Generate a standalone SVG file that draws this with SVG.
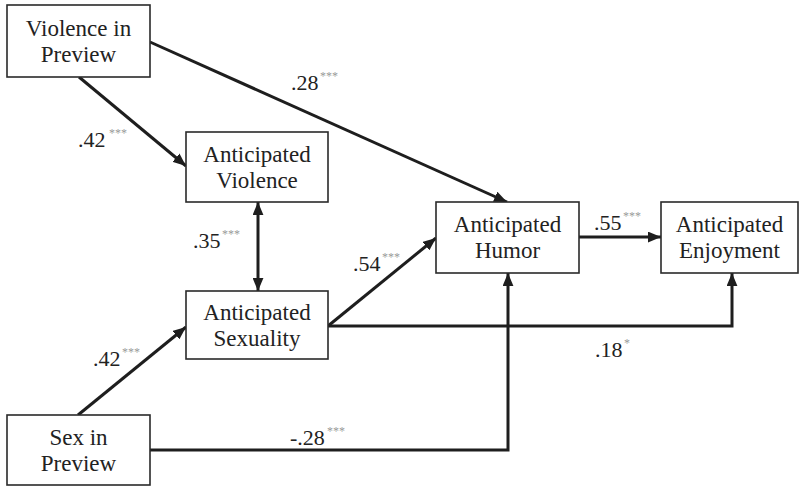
<svg xmlns="http://www.w3.org/2000/svg" width="801" height="487" viewBox="0 0 801 487">
<style>
  text { font-family: 'Liberation Serif', 'Times New Roman', 'DejaVu Serif', serif; }
  .box { fill: #ffffff; stroke: #2a2a2a; stroke-width: 1.6; }
  .lbl { font-size: 23px; fill: #222; text-anchor: middle; }
  .coef { font-size: 22px; fill: #222; }
  .star { font-size: 12px; fill: #999; }
  .edge { fill: none; stroke: #1e1e1e; stroke-width: 3; }
</style>
<defs>
  <marker id="ah" viewBox="0 0 12 10" refX="12" refY="5" markerUnits="userSpaceOnUse" markerWidth="13" markerHeight="11" orient="auto-start-reverse">
    <path d="M0,0 L12,5 L0,10 z" fill="#1e1e1e"/>
  </marker>
</defs>
<rect width="801" height="487" fill="#ffffff"/>
<g id="connectors">
  <line class="edge" x1="79" y1="77" x2="186" y2="166" marker-end="url(#ah)"/>
  <line class="edge" x1="150" y1="42" x2="507" y2="202" marker-end="url(#ah)"/>
  <line class="edge" x1="258" y1="202" x2="258" y2="291" marker-start="url(#ah)" marker-end="url(#ah)"/>
  <line class="edge" x1="328" y1="326" x2="436" y2="238" marker-end="url(#ah)"/>
  <line class="edge" x1="78" y1="415" x2="186" y2="327" marker-end="url(#ah)"/>
  <line class="edge" x1="579" y1="237" x2="661" y2="237" marker-end="url(#ah)"/>
  <path class="edge" d="M328,326 H732 V273" marker-end="url(#ah)"/>
  <path class="edge" d="M150,450 H508 V273" marker-end="url(#ah)"/>
</g>
<g id="coefficients">
  <text class="coef" x="78" y="147">.42</text><text class="star" x="109" y="137">***</text>
  <text class="coef" x="291" y="90">.28</text><text class="star" x="320" y="80">***</text>
  <text class="coef" x="193" y="248">.35</text><text class="star" x="222" y="238">***</text>
  <text class="coef" x="353" y="271">.54</text><text class="star" x="382" y="261">***</text>
  <text class="coef" x="594" y="230">.55</text><text class="star" x="623" y="220">***</text>
  <text class="coef" x="595" y="357">.18</text><text class="star" x="624" y="347">*</text>
  <text class="coef" x="290" y="445">-.28</text><text class="star" x="327" y="435">***</text>
  <text class="coef" x="93" y="366">.42</text><text class="star" x="122" y="356">***</text>
</g>
<g id="violence-in-preview">
  <rect class="box" x="7" y="5" width="143" height="72"/>
  <text class="lbl" x="78.5" y="36">Violence in</text>
  <text class="lbl" x="78.5" y="62">Preview</text>
</g>
<g id="anticipated-violence">
  <rect class="box" x="186" y="132" width="142" height="70"/>
  <text class="lbl" x="257" y="162">Anticipated</text>
  <text class="lbl" x="257" y="188">Violence</text>
</g>
<g id="anticipated-sexuality">
  <rect class="box" x="186" y="291" width="142" height="68"/>
  <text class="lbl" x="257" y="320">Anticipated</text>
  <text class="lbl" x="257" y="346">Sexuality</text>
</g>
<g id="anticipated-humor">
  <rect class="box" x="436" y="202" width="143" height="71"/>
  <text class="lbl" x="507.5" y="232">Anticipated</text>
  <text class="lbl" x="507.5" y="258">Humor</text>
</g>
<g id="anticipated-enjoyment">
  <rect class="box" x="661" y="202" width="137" height="71"/>
  <text class="lbl" x="729.5" y="232">Anticipated</text>
  <text class="lbl" x="729.5" y="258">Enjoyment</text>
</g>
<g id="sex-in-preview">
  <rect class="box" x="7" y="415" width="143" height="70"/>
  <text class="lbl" x="78.5" y="445">Sex in</text>
  <text class="lbl" x="78.5" y="471">Preview</text>
</g>
</svg>
